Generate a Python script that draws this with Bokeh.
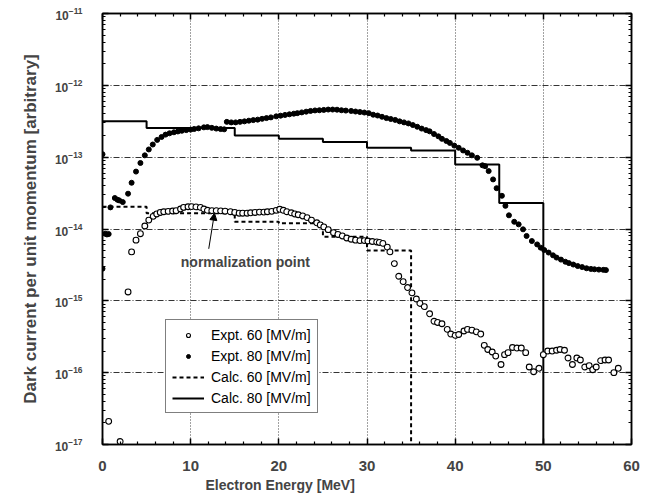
from bokeh.plotting import figure
from bokeh.models import (LogAxis, LinearAxis, FixedTicker, Legend, LegendItem,
                          Label, Arrow, NormalHead, CustomJSTickFormatter, Title)
from bokeh.embed import file_html
from bokeh.resources import INLINE

# ---- data -----------------------------------------------------------------
# Expt. 60 MV/m (open circles): energy [MeV], dark current [arb.]
expt60_energy = [0.7, 2.0, 2.9, 3.3, 3.8, 4.3, 4.8, 5.25, 5.75, 6.15,
                 6.55, 6.95, 7.45, 7.95, 8.35, 8.85, 9.2, 9.7, 10.1, 10.6,
                 11.1, 11.5, 11.9, 12.4, 12.9, 13.4, 13.9, 14.5, 15.0, 15.5,
                 15.9, 16.4, 16.8, 17.3, 17.8, 18.3, 18.7, 19.2, 19.7, 20.1,
                 20.5, 20.9, 21.4, 21.8, 22.2, 22.7, 23.2, 23.7, 24.3, 24.7,
                 25.1, 25.6, 26.2, 26.7, 27.2, 27.7, 28.2, 28.7, 29.2, 29.7,
                 30.1, 30.6, 31.1, 31.4, 31.8, 32.3, 32.6, 33.1, 33.6, 34.1,
                 34.6, 35.1, 35.6, 36.0, 36.5, 37.1, 37.6, 38.0, 38.5, 39.1,
                 39.5, 40.0, 40.4, 41.0, 41.4, 41.9, 42.4, 42.9, 43.3, 43.7,
                 44.2, 44.6, 45.2, 45.6, 46.0, 46.5, 47.0, 47.5, 48.0, 48.4,
                 48.9, 49.5, 50.0, 50.5, 51.0, 51.5, 51.9, 52.4, 52.8, 53.3,
                 53.8, 54.2, 54.7, 55.2, 55.6, 56.0, 56.5, 57.0, 57.4, 58.0,
                 58.5]
expt60_current = [2.1e-17, 1.1e-17, 1.33e-15, 4.8e-15, 7.0e-15, 8.6e-15, 1.1e-14, 1.33e-14, 1.5e-14, 1.62e-14,
                  1.7e-14, 1.74e-14, 1.76e-14, 1.78e-14, 1.8e-14, 1.9e-14, 2.0e-14, 2.04e-14, 2.05e-14, 2.03e-14,
                  2.0e-14, 1.9e-14, 1.82e-14, 1.8e-14, 1.8e-14, 1.79e-14, 1.77e-14, 1.74e-14, 1.7e-14, 1.66e-14,
                  1.66e-14, 1.66e-14, 1.68e-14, 1.7e-14, 1.72e-14, 1.72e-14, 1.74e-14, 1.76e-14, 1.82e-14, 1.88e-14,
                  1.82e-14, 1.74e-14, 1.68e-14, 1.62e-14, 1.58e-14, 1.52e-14, 1.44e-14, 1.33e-14, 1.22e-14, 1.14e-14,
                  1.07e-14, 9.8e-15, 8.9e-15, 8.4e-15, 8.0e-15, 7.5e-15, 7.2e-15, 7.0e-15, 6.9e-15, 6.9e-15,
                  6.8e-15, 6.7e-15, 6.6e-15, 6.5e-15, 6.3e-15, 5.6e-15, 4.8e-15, 3.3e-15, 2.2e-15, 1.85e-15,
                  1.53e-15, 1.29e-15, 1.06e-15, 9.2e-16, 8.3e-16, 6.6e-16, 5.2e-16, 5.0e-16, 4.8e-16, 4.0e-16,
                  3.45e-16, 3.3e-16, 3.4e-16, 3.8e-16, 4.0e-16, 3.9e-16, 3.7e-16, 3.45e-16, 2.4e-16, 2.1e-16,
                  1.94e-16, 1.7e-16, 1.3e-16, 1.78e-16, 1.9e-16, 2.24e-16, 2.2e-16, 2.2e-16, 1.9e-16, 1.2e-16,
                  1.03e-16, 1.15e-16, 1.78e-16, 2.0e-16, 2.0e-16, 2.05e-16, 2.1e-16, 2.05e-16, 1.6e-16, 1.3e-16,
                  1.6e-16, 1.5e-16, 1.2e-16, 1.25e-16, 1.1e-16, 1.2e-16, 1.47e-16, 1.5e-16, 1.5e-16, 1.0e-16,
                  1.15e-16]

# Expt. 80 MV/m (filled dots)
expt80_energy = [0.0, 0.0, 0.3, 0.5, 0.7, 0.9, 1.4, 1.7, 1.9, 2.3,
                 2.9, 3.3, 3.8, 4.3, 4.8, 5.25, 5.7, 6.2, 6.7, 7.15,
                 7.6, 8.1, 8.55, 9.0, 9.5, 10.0, 10.4, 10.9, 11.5, 11.9,
                 12.4, 12.9, 13.4, 13.8,
                 14.1, 14.6, 15.1, 15.6, 16.1, 16.6, 17.1, 17.6, 18.1, 18.6,
                 19.1, 19.7, 20.2, 20.7, 21.2, 21.7, 22.1, 22.6, 23.1, 23.6,
                 24.1, 24.6, 25.1, 25.6, 26.1, 26.6, 27.1, 27.6, 28.2, 28.7,
                 29.2, 29.7, 30.2, 30.7, 31.2, 31.7, 32.2, 32.7, 33.2, 33.7,
                 34.2, 34.7, 35.2, 35.7, 36.2, 36.7, 37.1, 37.6, 38.1, 38.5,
                 39.0, 39.4, 39.9, 40.4, 40.9, 41.4, 41.9, 42.5,
                 43.1, 43.4, 43.8, 44.3, 44.7, 45.3, 45.7, 46.1, 46.7, 47.2,
                 47.7, 48.1, 48.7, 49.3,
                 49.7, 50.1, 50.6, 51.1, 51.5, 52.0, 52.5, 52.9, 53.4, 53.9,
                 54.4, 54.9, 55.4, 55.8, 56.3, 56.8, 57.1]
expt80_current = [1.1e-13, 2.8e-15, 8.6e-15, 8.4e-15, 8.5e-15, 2.0e-14, 2.7e-14, 2.55e-14, 2.5e-14, 2.37e-14,
                  3.1e-14, 4.4e-14, 6.3e-14, 8.3e-14, 1.06e-13, 1.28e-13, 1.5e-13, 1.74e-13, 1.91e-13, 2.06e-13,
                  2.15e-13, 2.22e-13, 2.28e-13, 2.33e-13, 2.38e-13, 2.42e-13, 2.47e-13, 2.52e-13, 2.6e-13, 2.62e-13,
                  2.56e-13, 2.5e-13, 2.46e-13, 2.44e-13,
                  3.1e-13, 3.05e-13, 3.05e-13, 3.1e-13, 3.15e-13, 3.22e-13, 3.28e-13, 3.33e-13, 3.42e-13, 3.5e-13,
                  3.58e-13, 3.7e-13, 3.78e-13, 3.87e-13, 3.95e-13, 4.03e-13, 4.1e-13, 4.2e-13, 4.3e-13, 4.4e-13,
                  4.47e-13, 4.5e-13, 4.55e-13, 4.6e-13, 4.6e-13, 4.58e-13, 4.5e-13, 4.45e-13, 4.4e-13, 4.32e-13,
                  4.25e-13, 4.18e-13, 4.1e-13, 3.9e-13, 3.8e-13, 3.65e-13, 3.5e-13, 3.4e-13, 3.3e-13, 3.15e-13,
                  3.05e-13, 2.95e-13, 2.8e-13, 2.65e-13, 2.5e-13, 2.38e-13, 2.29e-13, 2.1e-13, 1.95e-13, 1.8e-13,
                  1.68e-13, 1.58e-13, 1.45e-13, 1.35e-13, 1.24e-13, 1.15e-13, 1.06e-13, 9.8e-14,
                  7.7e-14, 7.5e-14, 6.4e-14, 4.9e-14, 3.7e-14, 2.9e-14, 2.1e-14, 1.55e-14, 1.26e-14, 1.16e-14,
                  9.9e-15, 8.0e-15, 6.8e-15, 6.1e-15,
                  5.5e-15, 5.1e-15, 4.7e-15, 4.3e-15, 4.0e-15, 3.75e-15, 3.5e-15, 3.35e-15, 3.2e-15, 3.05e-15,
                  2.95e-15, 2.84e-15, 2.78e-15, 2.75e-15, 2.72e-15, 2.7e-15, 2.68e-15]

# Calculations: histogram bins of 5 MeV (left edges), last value closes the step
calc60_edges = [0, 5, 10, 15, 20, 25, 30, 35]
calc60_current = [2.04e-14, 1.66e-14, 1.66e-14, 1.26e-14, 1.2e-14, 7.8e-15, 5.0e-15, 1e-18]
calc80_edges = [0, 5, 10, 15, 20, 25, 30, 35, 40, 45, 50]
calc80_current = [3.16e-13, 2.55e-13, 2.55e-13, 2.0e-13, 1.8e-13, 1.63e-13, 1.35e-13, 1.24e-13,
                  7.9e-14, 2.3e-14, 1e-18]

x_ticks = [0, 10, 20, 30, 40, 50, 60]
x_minor = [2, 4, 6, 8, 12, 14, 16, 18, 22, 24, 26, 28, 32, 34, 36, 38, 42, 44, 46, 48, 52, 54, 56, 58]
y_ticks = [1e-17, 1e-16, 1e-15, 1e-14, 1e-13, 1e-12, 1e-11]
y_minor = [m * d for d in [1e-17, 1e-16, 1e-15, 1e-14, 1e-13, 1e-12] for m in range(2, 10)]

norm_label = "normalization point"
norm_text_pos = (16.2, 3.5e-15)
norm_arrow_start = (12.05, 5.3e-15)
norm_arrow_end = (12.7, 1.66e-14)

FONT = "Liberation Sans"

# ---- figure -----------------------------------------------------------------
p = figure(width=645, height=503, x_range=(0, 60), y_range=(1e-17, 1e-11),
           y_axis_type="log", output_backend="svg", toolbar_location=None,
           min_border_left=102, min_border_right=14, min_border_top=13,
           min_border_bottom=59, background_fill_color="white",
           border_fill_color="white")
p.outline_line_color = "black"
p.outline_line_width = 1.5

xt = FixedTicker(ticks=x_ticks, minor_ticks=x_minor)
yt = FixedTicker(ticks=y_ticks, minor_ticks=y_minor)
blank = CustomJSTickFormatter(code="return ''")


def style_axis(ax):
    ax.axis_line_color = "black"
    ax.axis_line_width = 1.5
    ax.major_tick_in = 6
    ax.major_tick_out = 0
    ax.minor_tick_in = 3
    ax.minor_tick_out = 0
    ax.major_tick_line_width = 1.5
    ax.minor_tick_line_width = 1.2


xa = p.xaxis[0]
xa.ticker = xt
style_axis(xa)
xa.major_label_text_font = FONT
xa.major_label_text_font_style = "bold"
xa.major_label_text_font_size = "15px"
xa.major_label_standoff = 16

ya = p.yaxis[0]
ya.ticker = yt
style_axis(ya)
ya.major_label_text_font = FONT
ya.major_label_text_font_style = "bold"
ya.major_label_text_font_size = "12px"
ya.major_label_standoff = 20
ya.axis_label = "Dark current per unit momentum [arbitrary]"
ya.axis_label_text_font = FONT
ya.axis_label_text_font_style = "bold"
ya.axis_label_text_font_size = "17px"
ya.axis_label_standoff = 12

# frame ticks on the top and right sides, without labels
top = LinearAxis(ticker=xt, formatter=blank, major_label_standoff=0)
style_axis(top)
p.add_layout(top, "above")
right = LogAxis(ticker=yt, formatter=blank, major_label_standoff=0)
style_axis(right)
p.add_layout(right, "right")

# x-axis title, set a little left of centre under the axis
x_title = Title(text="Electron Energy [MeV]", align="left", offset=103,
                text_font=FONT, text_font_style="bold", text_font_size="14px",
                standoff=3)
p.add_layout(x_title, "below")

p.xgrid.ticker = FixedTicker(ticks=[10, 20, 30, 40, 50])
p.xgrid.grid_line_color = "#444444"
p.xgrid.grid_line_dash = "1 2"
p.xgrid.grid_line_width = 1
p.ygrid.ticker = FixedTicker(ticks=[1e-16, 1e-15, 1e-14, 1e-13, 1e-12])
p.ygrid.grid_line_color = "#333333"
p.ygrid.grid_line_dash = "6 2 1 2"
p.ygrid.grid_line_width = 1

# ---- series ------------------------------------------------------------------
r_c60 = p.step(calc60_edges, calc60_current, mode="after", line_color="black",
               line_width=2, line_dash="4 3")
r_c80 = p.step(calc80_edges, calc80_current, mode="after", line_color="black",
               line_width=2)
r_e60 = p.scatter(expt60_energy, expt60_current, marker="circle", size=5.8,
                  line_color="black", line_width=1.1, fill_color="white")
r_e80 = p.scatter(expt80_energy, expt80_current, marker="circle", size=5,
                  line_color="black", fill_color="black")

legend = Legend(items=[
    LegendItem(label="Expt. 60 [MV/m]", renderers=[r_e60]),
    LegendItem(label="Expt. 80 [MV/m]", renderers=[r_e80]),
    LegendItem(label="Calc. 60 [MV/m]", renderers=[r_c60]),
    LegendItem(label="Calc. 80 [MV/m]", renderers=[r_c80]),
], location=(63, 31))
legend.border_line_color = "black"
legend.border_line_width = 1.2
legend.background_fill_color = "white"
legend.background_fill_alpha = 1
legend.label_text_font = FONT
legend.label_text_font_size = "14px"
legend.label_text_color = "black"
legend.glyph_width = 32
legend.glyph_height = 10
legend.label_height = 17
legend.label_standoff = 7
legend.spacing = 4
legend.padding = 6
legend.margin = 0
p.add_layout(legend, "center")

# ---- annotations -------------------------------------------------------------
p.add_layout(Label(x=norm_text_pos[0], y=norm_text_pos[1], text=norm_label,
                   text_align="center", text_baseline="middle",
                   text_font=FONT, text_font_style="bold", text_font_size="14px"))
p.add_layout(Arrow(end=NormalHead(size=7, fill_color="black", line_color="black"),
                   x_start=norm_arrow_start[0], y_start=norm_arrow_start[1],
                   x_end=norm_arrow_end[0], y_end=norm_arrow_end[1],
                   line_color="black", line_width=1))

open("out.html", "w").write(file_html(p, INLINE))
